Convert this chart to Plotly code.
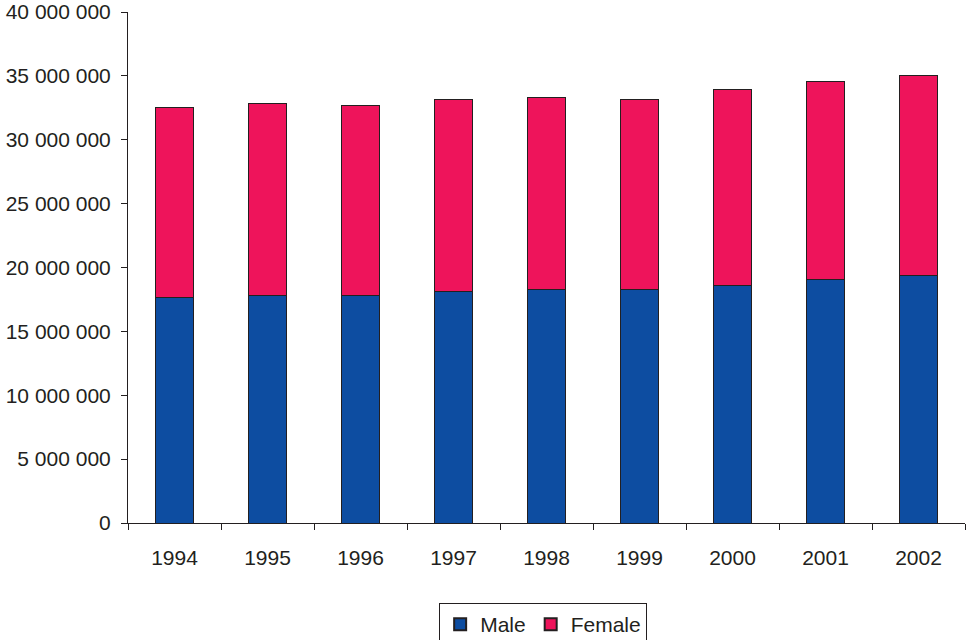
import plotly.graph_objects as go

years = ["1994", "1995", "1996", "1997", "1998", "1999", "2000", "2001", "2002"]
male = [17650000, 17810000, 17810000, 18120000, 18280000, 18280000, 18590000, 19060000, 19370000]
female = [14870000, 15020000, 14870000, 15030000, 15020000, 14900000, 15340000, 15490000, 15650000]

ink = "#231F20"
fig = go.Figure()
fig.add_trace(go.Bar(x=years, y=male, name="Male",
                     marker=dict(color="#0D4DA1", line=dict(color=ink, width=1))))
fig.add_trace(go.Bar(x=years, y=female, name="Female",
                     marker=dict(color="#EE145B", line=dict(color=ink, width=1))))

font = dict(family="Liberation Sans, Arial, sans-serif", size=21, color=ink)
fig.update_layout(
    width=971, height=640,
    barmode="stack", bargap=0.59,
    margin=dict(l=128, r=6, t=12, b=117, autoexpand=False),
    plot_bgcolor="white", paper_bgcolor="white",
    separators=". ",
    font=font,
    xaxis=dict(showline=True, linecolor=ink, linewidth=1, ticks="outside",
               tickson="boundaries", ticklen=6, tickcolor=ink, showgrid=False,
               ticklabelstandoff=16, automargin=False),
    yaxis=dict(range=[0, 40000000], dtick=5000000, tickformat=",d",
               showline=True, linecolor=ink, linewidth=1, ticks="outside",
               ticklen=6, tickcolor=ink, showgrid=False, zeroline=False,
               ticklabelstandoff=6, automargin=False),
    legend=dict(orientation="h", x=0.496, xanchor="center",
                yref="container", y=(640 - 603) / 640, yanchor="top",
                bordercolor=ink, borderwidth=1, font=font,
                traceorder="normal", itemsizing="constant"),
    showlegend=True,
)
fig.write_html("out.html")
